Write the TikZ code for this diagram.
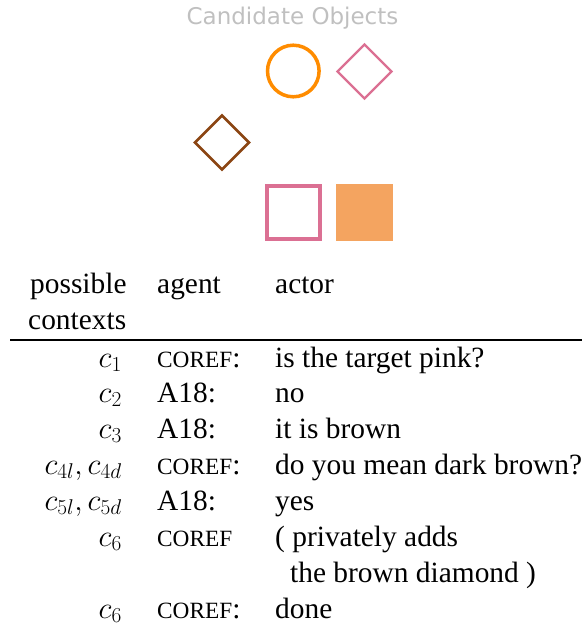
\RequirePackage{fix-cm}
\documentclass[tikz,border=0pt]{standalone}
\usepackage{fontspec}
\setmainfont{Liberation Serif}
\newfontfamily\titlefont{DejaVu Sans}
\definecolor{silvergray}{HTML}{C0C0C0}
\definecolor{dkorange}{HTML}{FF8C00}
\definecolor{pvred}{HTML}{DB7093}
\definecolor{sbrown}{HTML}{8B4513}
\definecolor{sandy}{HTML}{F4A460}
\newcommand{\coref}{{\fontsize{23.3}{36}\selectfont COREF}}
\begin{document}
\begin{tikzpicture}[x=1pt,y=-1pt,
  txt/.style={inner sep=0pt, anchor=base west, font=\fontsize{29.4}{36}\selectfont},
  ctx/.style={inner sep=0pt, anchor=base east, font=\fontsize{30.5}{36}\selectfont}]
\useasboundingbox (0,0) rectangle (584,628);
\node[inner sep=0pt, anchor=base, text=silvergray, font=\titlefont\fontsize{23}{26}\selectfont] (title) at (292.5,24.5) {Candidate Objects};
% objects
\draw[dkorange, line width=3.5pt] (293.3,71) circle[radius=25.8];
\draw[pvred, line width=2.2pt] (364.5,44.5) -- (391.5,71.5) -- (364.5,98.5) -- (337.5,71.5) -- cycle;
\draw[sbrown, line width=2.5pt] (222,115.5) -- (249,142.5) -- (222,169.5) -- (195,142.5) -- cycle;
\draw[pvred, line width=4pt] (267,186) rectangle (319.7,238.7);
\fill[sandy] (335.7,184) rectangle (393,240.7);
% header
\node[txt] (h1) at (30,293) {possible};
\node[txt] (h2) at (28,329) {contexts};
\node[txt] (h3) at (157,293) {agent};
\node[txt] (h4) at (275,293) {actor};
\draw[line width=1.1pt] (10,340) -- (582,340);
% rows
\node[ctx] (c1) at (122,367) {$c_1$};
\node[txt] (a1) at (157,367) {\coref:};
\node[txt] (u1) at (275,367) {is the target pink?};
\node[ctx] (c2) at (122,402) {$c_2$};
\node[txt] (a2) at (157,402) {A18:};
\node[txt] (u2) at (275,402) {no};
\node[ctx] (c3) at (122,438) {$c_3$};
\node[txt] (a3) at (157,438) {A18:};
\node[txt] (u3) at (275,438) {it is brown};
\node[ctx] (c4) at (122,474) {$c_{4l},c_{4d}$};
\node[txt] (a4) at (157,474) {\coref:};
\node[txt] (u4) at (275,474) {do you mean dark brown?};
\node[ctx] (c5) at (122,510) {$c_{5l},c_{5d}$};
\node[txt] (a5) at (157,510) {A18:};
\node[txt] (u5) at (275,510) {yes};
\node[ctx] (c6) at (122,546) {$c_6$};
\node[txt] (a6) at (157,546) {\coref};
\node[txt] (u6) at (275,546) {( privately adds};
\node[txt] (u6b) at (290,582) {the brown diamond )};
\node[ctx] (c7) at (122,618) {$c_6$};
\node[txt] (a7) at (157,618) {\coref:};
\node[txt] (u7) at (275,618) {done};
\end{tikzpicture}
\end{document}
